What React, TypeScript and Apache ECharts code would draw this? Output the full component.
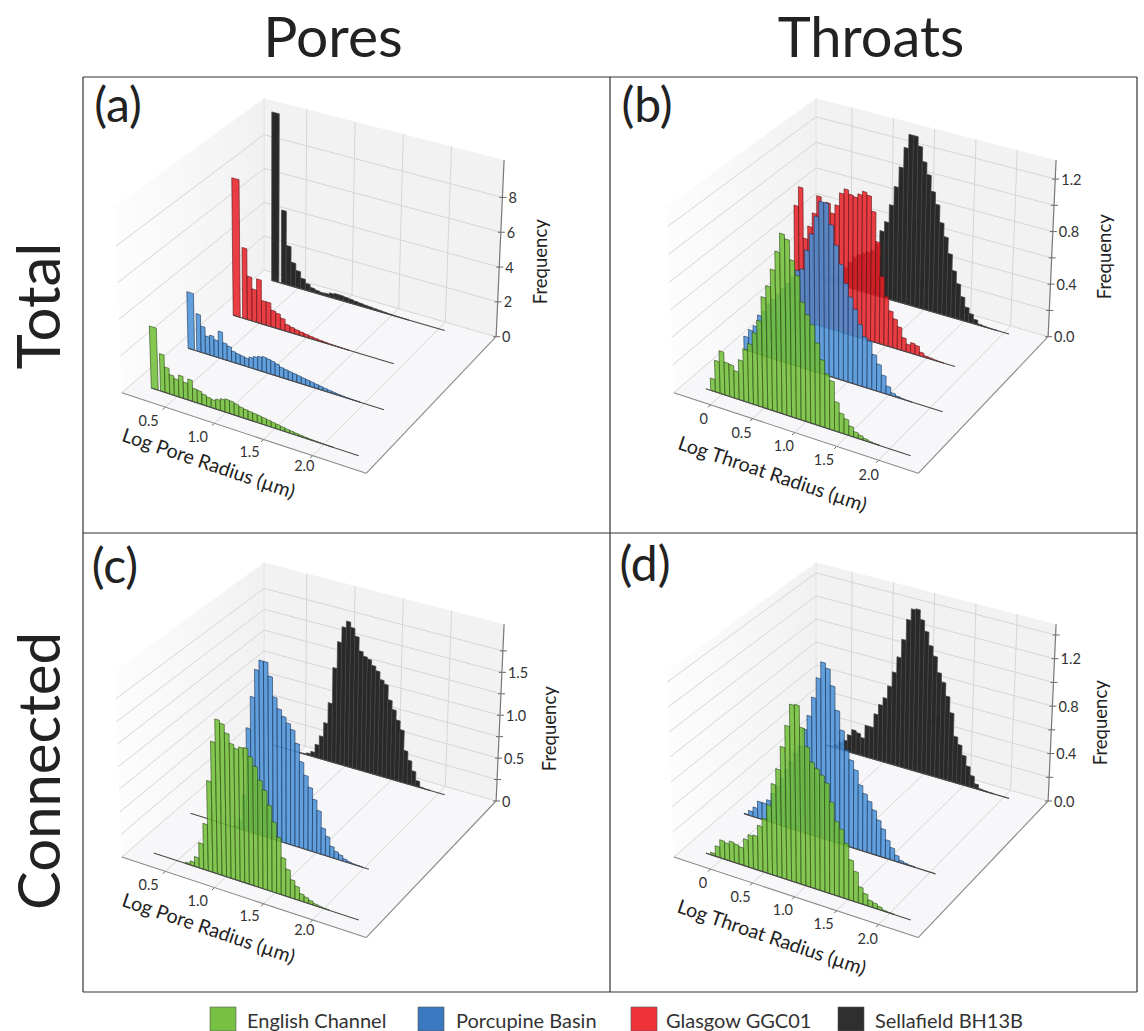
import React, { useEffect, useRef } from "react";
import * as echarts from "echarts";

const seriesNames = ["English Channel", "Porcupine Basin", "Glasgow GGC01", "Sellafield BH13B"];
const FONT = "Lato";

// (a) Total pores
const aGreen = [3.4,0,2.05,1.4,1.07,.93,1.2,.9,1.15,.73,.7,.58,.5,.45,.55,.65,.72,.7,.63,.55,.5,.47,.44,.41,.37,.33,.29,.25,.21,.17,.14,.11,.08,.06,.04,.03,.02,.01,.005,0,0,0,0,0,0];
const aBlue = [3.18,0,2.1,1.48,1,1.12,.95,1.5,.93,.82,.62,.56,.52,.47,.58,.69,.78,.84,.8,.75,.67,.56,.52,.48,.44,.4,.36,.32,.28,.24,.2,.16,.13,.1,.07,.05,.03,.02,.01,0,0,0,0,0,0];
const aRed = [7.9,0,4.06,2.5,1.85,2.5,1.35,1.35,.96,.87,.67,.4,.33,.27,.22,.18,.14,.11,.08,.06,.04,.03,.02,.01,0,0,0,0,0,0,0,0,0,0];
const aBlack = [9.9,0,4.3,2.3,1.4,1,.63,.41,.25,.18,.14,.16,.25,.3,.3,.27,.24,.2,.17,.14,.12,.1,.08,.06,.04,.03,.02,.01,0,0,0,0,0,0,0,0];
// (b) Total throats
const bGreen = [0,.09,.23,.31,.24,.235,.2,.29,.38,.43,.52,.62,.8,.89,1.02,1.16,1.3,1.27,1.13,1.03,.85,.77,.71,.59,.48,.39,.35,.21,.14,.11,.07,.04,.027,.015,.007,.003,0,0,0,0,0,0,0];
const bBlue = [.1,.16,.2,.29,.33,.39,.44,.49,.54,.59,.65,.71,.73,.88,1.01,1.15,1.27,1.27,1.12,.98,.85,.72,.63,.55,.45,.37,.35,.26,.2,.13,.06,.022,.01,.005,.002,0,0,0,0,0,0,0];
const bRed = [.86,1.01,.63,.73,.84,.98,.94,.95,.88,.95,1.05,1.09,1.06,1.05,1.08,1.11,1.09,.98,.76,.51,.37,.27,.22,.17,.1,.06,.08,.07,.03,.013,.01,.006,.003,0,0,0];
const bBlack = [.02,.04,.07,.11,.15,.2,.25,.28,.3,.32,.34,.4,.51,.59,.73,.88,1.04,1.2,1.31,1.31,1.24,1.13,1.04,.92,.83,.7,.6,.48,.36,.27,.18,.11,.07,.036,.01,.006,.003,.0015,0,0,0];
// (c) Connected pores
const cGreen = [0,0,0,0,0,0,0,.015,.045,.11,.28,.51,1,1.45,1.71,1.68,1.59,1.49,1.45,1.48,1.49,1.41,1.32,1.18,1.09,.94,.77,.62,.41,.3,.2,.145,.08,.06,.04,.02,.012,.006,0,0,0,0,0,0,0];
const cBlue = [0,0,0,0,0,0,0,0,0,0,.02,.1,.4,1.17,1.54,1.86,1.98,1.98,1.83,1.61,1.49,1.42,1.36,1.3,1.16,.97,.83,.71,.59,.48,.3,.22,.125,.083,.06,.03,.015,.008,.004,0,0];
const cBlack = [0,0,0,0,0,0,.003,.008,.024,.056,.155,.27,.44,.69,1.12,1.44,1.63,1.71,1.65,1.56,1.4,1.35,1.33,1.27,1.22,1.13,1.09,.92,.82,.71,.61,.38,.28,.17,.07,.01,.004,0,0,0,0];
// (d) Connected throats
const dGreen = [0,.02,.085,.145,.135,.16,.15,.14,.215,.26,.27,.36,.43,.55,.73,.86,1.05,1.23,1.41,1.42,1.25,1.11,1,.96,.92,.87,.73,.59,.54,.44,.32,.24,.13,.09,.05,.04,.024,.008,.004,0,0,0,0];
const dBlue = [.005,.04,.08,.14,.14,.175,.24,.31,.39,.47,.55,.63,.7,.85,.97,1.13,1.3,1.44,1.4,1.27,1.08,.93,.78,.71,.64,.53,.47,.42,.36,.29,.23,.15,.1,.05,.02,.01,.005,0,0,0,0,0];
const dBlack = [.005,.01,.03,.06,.09,.146,.2,.186,.155,.27,.27,.39,.48,.55,.66,.79,.93,1.09,1.27,1.37,1.38,1.3,1.21,1.1,1.02,.89,.82,.71,.58,.39,.33,.25,.17,.1,.04,.01,.006,.003,0,0,0,0];

const poreTicks = [0.5, 1, 1.5, 2];
const poreTickLabels = ["0.5", "1.0", "1.5", "2.0"];
const throatTicks = [0, 0.5, 1, 1.5, 2];
const throatTickLabels = ["0", "0.5", "1.0", "1.5", "2.0"];

const FILL: Record<string, string> = {
  green: "rgba(112,190,52,0.86)",
  blue: "rgba(72,145,215,0.86)",
  red: "rgba(232,32,38,0.86)",
  black: "rgba(24,24,24,0.92)",
};
const EDGE: Record<string, string> = {
  green: "rgba(40,70,20,0.75)",
  blue: "rgba(25,50,85,0.75)",
  red: "rgba(90,20,20,0.75)",
  black: "rgba(70,70,70,0.9)",
};
const LEGEND = ["#76c043", "#3a78bf", "#ee3338", "#2f2f2f"];

const panels = [
  {
    letter: "(a)", dx: 0, dy: 0, xMin: 0.057, xMax: 2.545, zMax: 10.15,
    xTicks: poreTicks, xLabels: poreTickLabels,
    xLabelOffsets: [[-16.7, 13.3], [-16.7, 13], [-14, 11.7], [-8.4, 10]],
    zTicks: [0, 2, 4, 6, 8], zLabels: ["0", "2", "4", "6", "8"],
    title: "Log Pore Radius (µm)", titlePos: [208.9, 462.7], freqPos: [540.3, 261.7],
    letterPos: [118, 103],
    hist: [
      { c: "black", v: 0.95, x0: 0.214, x1: 2.065, y: aBlack },
      { c: "red", v: 0.67, x0: 0.226, x1: 1.918, y: aRed },
      { c: "blue", v: 0.39, x0: 0.169, x1: 2.204, y: aBlue },
      { c: "green", v: 0.085, x0: 0.235, x1: 2.356, y: aGreen },
    ],
  },
  {
    letter: "(b)", dx: 552, dy: 0, xMin: -0.436, xMax: 2.47, zMax: 1.345,
    xTicks: throatTicks, xLabels: throatTickLabels,
    xLabelOffsets: [[-6.7, 13.3], [-11, 14], [-10.7, 13], [-12.7, 13], [-10, 14]],
    zTicks: [0, .2, .4, .6, .8, 1, 1.2], zLabels: ["0.0", "", "0.4", "", "0.8", "", "1.2"],
    title: "Log Throat Radius (µm)", titlePos: [772.7, 473.3], freqPos: [1104, 256.7],
    letterPos: [647, 103],
    hist: [
      { c: "black", v: 0.95, x0: -0.231, x1: 2.063, y: bBlack },
      { c: "red", v: 0.67, x0: -0.119, x1: 1.851, y: bRed },
      { c: "blue", v: 0.39, x0: -0.257, x1: 2.153, y: bBlue },
      { c: "green", v: 0.085, x0: -0.197, x1: 2.249, y: bGreen },
    ],
  },
  {
    letter: "(c)", dx: 0, dy: 464.3, xMin: 0.057, xMax: 2.545, zMax: 2.06,
    xTicks: poreTicks, xLabels: poreTickLabels,
    xLabelOffsets: [[-16.7, 13.3], [-16.7, 13], [-14, 11.7], [-8.4, 10]],
    zTicks: [0, .25, .5, .75, 1, 1.25, 1.5, 1.75], zLabels: ["0", "", "0.5", "", "1.0", "", "1.5", ""],
    title: "Log Pore Radius (µm)", titlePos: [208.9, 927.7], freqPos: [548.7, 728.7],
    letterPos: [115, 564],
    hist: [
      { c: "black", v: 0.95, x0: 0.229, x1: 2.065, y: cBlack },
      { c: "blue", v: 0.39, x0: 0.194, x1: 2.047, y: cBlue },
      { c: "green", v: 0.085, x0: 0.259, x1: 2.356, y: cGreen },
    ],
  },
  {
    letter: "(d)", dx: 552, dy: 464.3, xMin: -0.436, xMax: 2.47, zMax: 1.49,
    xTicks: throatTicks, xLabels: throatTickLabels,
    xLabelOffsets: [[-7.5, 13.3], [-12, 14], [-11.7, 13], [-13, 13], [-11, 14]],
    zTicks: [0, .2, .4, .6, .8, 1, 1.2, 1.4], zLabels: ["0.0", "", "0.4", "", "0.8", "", "1.2", ""],
    title: "Log Throat Radius (µm)", titlePos: [772, 936.7], freqPos: [1099.8, 722.7],
    letterPos: [645, 562],
    hist: [
      { c: "black", v: 0.95, x0: -0.231, x1: 2.063, y: dBlack },
      { c: "blue", v: 0.39, x0: -0.257, x1: 2.066, y: dBlue },
      { c: "green", v: 0.085, x0: -0.197, x1: 2.249, y: dGreen },
    ],
  },
];

// Corners of the 3D box, screen pixels of panel (a)
const A = [121.8, 392.7], B = [366.2, 473.3], C = [496.1, 336.7], D = [264.1, 270];
const A2 = [114.5, 206.7], B2 = [369, 282], C2 = [504.1, 160], D2 = [264.1, 98.3];

function project(p: any, u: number, v: number, w: number) {
  const mix = (a: number[], b: number[], t: number) => [a[0] + (b[0] - a[0]) * t, a[1] + (b[1] - a[1]) * t];
  const floor = mix(mix(A, B, u), mix(D, C, u), v);
  const top = mix(mix(A2, B2, u), mix(D2, C2, u), v);
  const q = mix(floor, top, w);
  return [q[0] + p.dx, q[1] + p.dy];
}

// Turn axis-scale coordinates into box coordinates through the grid's own scales
function toBox(params: any, api: any, x: number, z: number) {
  const cs = params.coordSys;
  const c = api.coord([x, z]);
  return [(c[0] - cs.x) / cs.width, 1 - (c[1] - cs.y) / cs.height];
}

const txt = (text: string, x: number, y: number, font: string, fill: string, rotation = 0, align = "center") => ({
  type: "text",
  x, y, rotation,
  silent: true,
  style: { text, font, fill, align, textAlign: align, verticalAlign: "middle", textVerticalAlign: "middle" },
});

function buildFrameRender(p: any) {
  return (params: any, api: any) => {
    const P = (u: number, v: number, w: number) => project(p, u, v, w);
    const line = (a: number[], b: number[], stroke: string, lineWidth = 1) => ({
      type: "line", silent: true,
      shape: { x1: a[0], y1: a[1], x2: b[0], y2: b[1] },
      style: { stroke, lineWidth },
    });
    const ch: any[] = [];
    ch.push({
      type: "polygon", silent: true,
      shape: { points: [P(0, 0, 0), P(0, 1, 0), P(1, 1, 0), P(1, 0, 0)] },
      style: { fill: "#f7f7fa" },
    });
    ch.push({
      type: "polygon", silent: true,
      shape: { points: [P(0, 0, 0), P(0, 1, 0), P(0, 1, 1), P(0, 0, 1)] },
      style: {
        fill: new echarts.graphic.LinearGradient(0, 0, 1, 0, [
          { offset: 0, color: "#fdfdfd" },
          { offset: 1, color: "#f1f1f2" },
        ]),
      },
    });
    ch.push({
      type: "polygon", silent: true,
      shape: { points: [P(0, 1, 0), P(1, 1, 0), P(1, 1, 1), P(0, 1, 1)] },
      style: { fill: "#f2f2f2" },
    });
    const grid = "#d6d6d6";
    ch.push(line(P(0, 1, 0), P(0, 1, 1), "#e2e2e2"));
    p.zTicks.forEach((z: number, i: number) => {
      const w = toBox(params, api, p.xMin, z)[1];
      ch.push(line(P(0, 0, w), P(0, 1, w), grid));
      ch.push(line(P(0, 1, w), P(1, 1, w), grid));
      const e = P(1, 1, w);
      ch.push(line([e[0] - 3, e[1]], [e[0] + 4, e[1]], "#666"));
      if (p.zLabels[i]) ch.push(txt(p.zLabels[i], e[0] + 6, e[1], `14.5px ${FONT}`, "#333", 0, "left"));
    });
    p.xTicks.forEach((x: number, i: number) => {
      const u = toBox(params, api, x, 0)[0];
      ch.push(line(P(u, 0, 0), P(u, 1, 0), grid));
      ch.push(line(P(u, 1, 0), P(u, 1, 1), grid));
      const e = P(u, 0, 0);
      ch.push(line([e[0], e[1]], [e[0] - 2.5, e[1] + 2.5], "#666"));
      const off = p.xLabelOffsets[i];
      ch.push(txt(p.xLabels[i], e[0] + off[0], e[1] + off[1], `14.5px ${FONT}`, "#333"));
    });
    ch.push(line(P(0, 0, 0), P(1, 0, 0), "#8a8a8a", 1.1));
    ch.push(line(P(1, 0, 0), P(1, 1, 0), "#8a8a8a", 1.1));
    ch.push(line(P(1, 1, 0), P(1, 1, 1), "#777", 1.2));
    return { type: "group", children: ch };
  };
}

function buildHistRender(p: any, h: any) {
  return (params: any, api: any) => {
    const x0 = api.value(0), x1 = api.value(1), f = api.value(2), kind = api.value(3);
    const lo = toBox(params, api, x0, 0);
    const hi = toBox(params, api, x1, f);
    if (kind === 1) {
      const a = project(p, lo[0], h.v, 0), b = project(p, hi[0], h.v, 0);
      return {
        type: "line", silent: true,
        shape: { x1: a[0], y1: a[1], x2: b[0], y2: b[1] },
        style: { stroke: "#4a4a4a", lineWidth: 1.1 },
      };
    }
    if (!(f > 0)) return null;
    return {
      type: "polygon", silent: true,
      shape: {
        points: [
          project(p, lo[0], h.v, 0), project(p, hi[0], h.v, 0),
          project(p, hi[0], h.v, hi[1]), project(p, lo[0], h.v, hi[1]),
        ],
      },
      style: { fill: FILL[h.c], stroke: EDGE[h.c], lineWidth: 0.8 },
    };
  };
}

function buildOption() {
  const grid: any[] = [], xAxis: any[] = [], yAxis: any[] = [], series: any[] = [];
  panels.forEach((p, i) => {
    grid.push({ left: 121.8 + p.dx, top: 98 + p.dy, width: 375, height: 375 });
    xAxis.push({ type: "value", gridIndex: i, min: p.xMin, max: p.xMax, show: false });
    yAxis.push({ type: "value", gridIndex: i, min: 0, max: p.zMax, show: false });
    series.push({
      type: "custom", xAxisIndex: i, yAxisIndex: i, silent: true, clip: false,
      renderItem: buildFrameRender(p), data: [[p.xMin, 0]],
    });
    p.hist.forEach((h) => {
      const w = (h.x1 - h.x0) / h.y.length;
      const data: number[][] = h.y.map((f, k) => {
        const left = h.x0 + k * w;
        const stretch = f > 0 && h.y[k + 1] === 0 ? 1.5 : 1;
        return [left, left + w * stretch, f, 0];
      });
      data.push([h.x0, h.x1, 0, 1]);
      series.push({
        type: "custom", xAxisIndex: i, yAxisIndex: i, silent: true, clip: false,
        renderItem: buildHistRender(p, h),
        dimensions: ["x0", "x1", "f", "kind"],
        encode: { x: [0, 1], y: 2 },
        data,
      });
    });
  });

  const T = (text: string, x: number, y: number, font: string, rotation = 0, fill = "#222", align = "center") => ({
    type: "text", x, y, rotation, silent: true,
    style: { text, font, fill, align, textAlign: align, verticalAlign: "middle", textVerticalAlign: "middle" },
  });
  const frameLine = (x1: number, y1: number, x2: number, y2: number) => ({
    type: "line", silent: true, shape: { x1, y1, x2, y2 }, style: { stroke: "#333", lineWidth: 1.2 },
  });
  const elements: any[] = [
    frameLine(83, 77, 1137, 77), frameLine(83, 992, 1137, 992), frameLine(83, 77, 83, 992),
    frameLine(1137, 77, 1137, 992), frameLine(610, 77, 610, 992), frameLine(83, 533, 1137, 533),
    T("Pores", 333, 35, `57px ${FONT}`),
    T("Throats", 871, 35, `56px ${FONT}`),
    T("Total", 37, 306, `60px ${FONT}`, Math.PI / 2),
    T("Connected", 37, 771, `58px ${FONT}`, Math.PI / 2),
  ];
  panels.forEach((p) => {
    elements.push(T(p.letter, p.letterPos[0], p.letterPos[1], `48px ${FONT}`));
    elements.push(T("Frequency", p.freqPos[0], p.freqPos[1], `18.5px ${FONT}`, Math.PI / 2));
    elements.push(T(p.title, p.titlePos[0], p.titlePos[1], `19.6px ${FONT}`, (-18.7 * Math.PI) / 180));
  });
  const legendX = [210, 418, 631, 838];
  const legendText = [247, 456, 666, 875];
  seriesNames.forEach((n, i) => {
    elements.push({
      type: "rect", silent: true,
      shape: { x: legendX[i], y: 1007, width: 26, height: 24 },
      style: { fill: LEGEND[i], stroke: "#555", lineWidth: 0.6 },
    });
    elements.push(T(n, legendText[i], 1020, `20px ${FONT}`, 0, "#333", "left"));
  });

  return {
    animation: false,
    backgroundColor: "#ffffff",
    tooltip: { show: false },
    grid, xAxis, yAxis, series,
    graphic: { elements },
  };
}

export default function App() {
  const ref = useRef<HTMLDivElement>(null);
  useEffect(() => {
    document.body.style.margin = "0";
    const chart = echarts.init(ref.current!, null, { renderer: "svg" });
    chart.setOption(buildOption() as any);
    return () => chart.dispose();
  }, []);
  return <div ref={ref} style={{ width: 1144, height: 1031, overflow: "hidden" }} />;
}
